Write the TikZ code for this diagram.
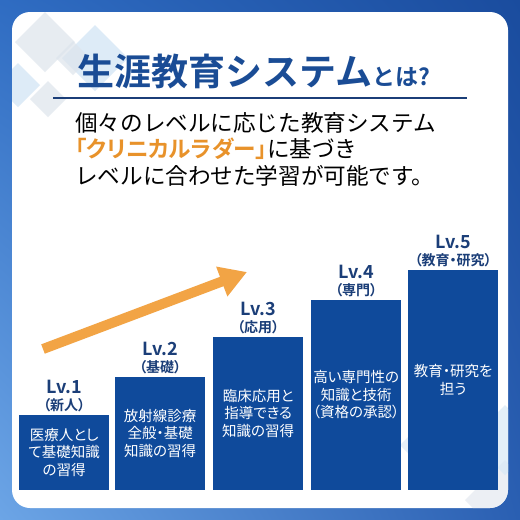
\documentclass[tikz,border=0pt]{standalone}
\usepackage{fontspec}
\usepackage{xcolor}
\usepackage{tikz}
\usetikzlibrary{positioning,arrows.meta,shadings}
\newfontfamily\jpfont[BoldFont={Noto Sans CJK JP Bold}]{Noto Sans CJK JP}
\newfontfamily\jppfont[RawFeature=+palt,BoldFont={Noto Sans CJK JP Bold}]{Noto Sans CJK JP}
\definecolor{frameul}{HTML}{2F6CC2}
\definecolor{frameur}{HTML}{1A4C9E}
\definecolor{framell}{HTML}{6CA5E6}
\definecolor{framelr}{HTML}{2A5FB2}
\definecolor{navy}{HTML}{1B3E78}
\definecolor{titleblue}{HTML}{1A4C95}
\definecolor{barblue}{HTML}{0F4A9B}
\definecolor{ladderorange}{HTML}{E8922A}
\definecolor{arroworange}{HTML}{F2A445}
\definecolor{tileblue}{HTML}{CFE3F4}
\definecolor{tilegrey}{HTML}{DDE4EC}

\tikzset{
  ladderbar/.style={fill=barblue, minimum width=90pt, inner sep=0pt,
    text=white, align=center,
    font=\jppfont\fontsize{14.5}{17.5}\selectfont},
  lvlabel/.style={text=navy, align=center, inner sep=0pt,
    font=\jppfont\bfseries\fontsize{18}{17}\selectfont},
}

\begin{document}
\begin{tikzpicture}[x=1pt,y=-1pt]
\useasboundingbox (0,0) rectangle (520,520);
% frame and panel
\shade[upper left=frameul, upper right=frameur, lower left=framell,
       lower right=framelr] (0,0) rectangle (520,520);
\fill[white, rounded corners=18pt] (12,12) rectangle (508,508);
\begin{scope}
\clip[rounded corners=18pt] (12,12) rectangle (508,508);
\foreach \cx/\cy/\h/\col in {45/42/30/tilegrey, 95/58/33/tileblue,
    73/58/17/tilegrey, 18/85/22/tileblue, 48/99/18/tilegrey,
    445/445/45/tileblue!70, 505/500/40/tilegrey!80, 505/440/35/tileblue!80}
  \fill[\col, opacity=0.7] (\cx,\cy) +(0,-\h) -- +(\h,0) -- +(0,\h) -- +(-\h,0) -- cycle;
\end{scope}

% heading
\node[anchor=base west, inner sep=0pt, text=titleblue] (title) at (77,85)
  {\jpfont\bfseries\fontsize{37}{37}\selectfont 生涯教育システム{\fontsize{23}{23}\selectfont とは?}};
\coordinate (rule west) at (53,98);
\coordinate (rule east) at (467,98);
\draw[navy, line width=1.3pt] (rule west) -- (rule east);
\node[anchor=north west, inner sep=0pt, align=left,
      font=\jpfont\fontsize{22.6}{26.5}\selectfont] (lead) at (75,112)
  {個々のレベルに応じた教育システム\\
   {\jppfont\bfseries\color{ladderorange}「クリニカルラダー」}に基づき\\
   レベルに合わせた学習が可能です。};

% ladder
\node[ladderbar, minimum height=75pt, anchor=south west] (bar1) at (19,490)
  {医療人とし\\て基礎知識\\の習得};
\node[ladderbar, minimum height=113pt, anchor=south west] (bar2) at (115,490)
  {放射線診療\\全般・基礎\\知識の習得};
\node[ladderbar, minimum height=153pt, anchor=south west] (bar3) at (213,490)
  {臨床応用と\\指導できる\\知識の習得};
\node[ladderbar, minimum height=190pt, anchor=south west] (bar4) at (311,490)
  {高い専門性の\\知識と技術\\（資格の承認）};
\node[ladderbar, minimum height=220pt, anchor=south west] (bar5) at (408,490)
  {教育・研究を\\担う};

\node[lvlabel, above=3pt of bar1] (lv1) {Lv.1\\{\fontsize{14}{14}\selectfont（新人）}};
\node[lvlabel, above=3pt of bar2] (lv2) {Lv.2\\{\fontsize{14}{14}\selectfont（基礎）}};
\node[lvlabel, above=3pt of bar3] (lv3) {Lv.3\\{\fontsize{14}{14}\selectfont（応用）}};
\node[lvlabel, above=3pt of bar4] (lv4) {Lv.4\\{\fontsize{14}{14}\selectfont（専門）}};
\node[lvlabel, above=3pt of bar5] (lv5) {Lv.5\\{\fontsize{14}{14}\selectfont（教育・研究）}};

% rising arrow
\coordinate (rise start) at (43,349);
\coordinate (rise end) at (247,272);
\draw[arroworange, line width=10pt, -{Triangle[width=30pt,length=27pt]}]
  (rise start) -- (rise end);
\end{tikzpicture}
\end{document}
